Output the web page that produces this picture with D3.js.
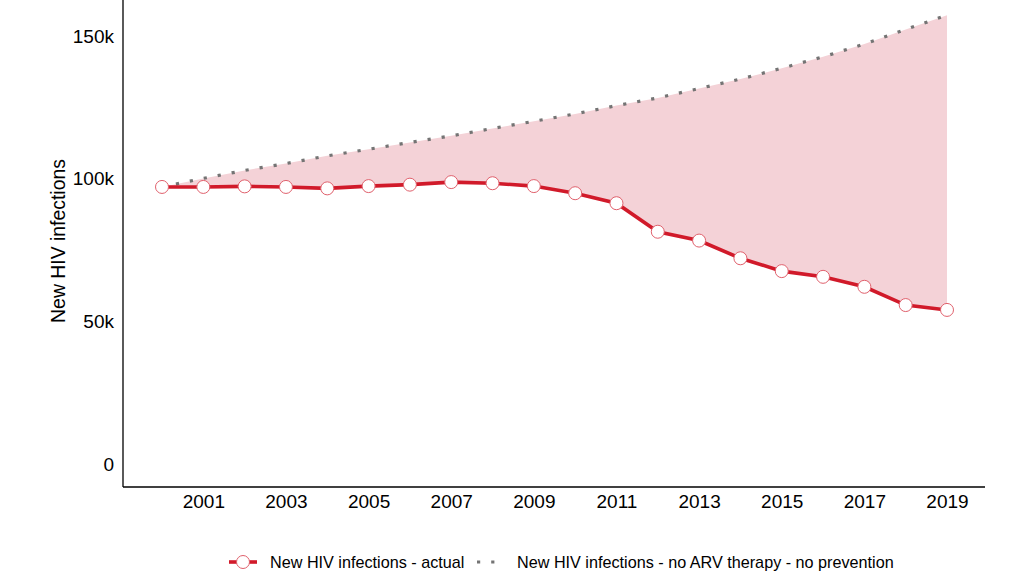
<!DOCTYPE html>
<html lang="en">
    <head>
        <meta charset="utf-8">
        <title>New HIV infections</title>
        <script src="https://cdn.jsdelivr.net/npm/d3@7"></script>
    </head>

    <body style="margin: 0px">
        <script type="text/javascript">

            // years and the two series
            var years = [2000, 2001, 2002, 2003, 2004, 2005, 2006, 2007, 2008, 2009,
                         2010, 2011, 2012, 2013, 2014, 2015, 2016, 2017, 2018, 2019];
            var actual = [97100, 97100, 97300, 97100, 96600, 97400, 97900, 98800, 98400, 97400,
                          94900, 91400, 81400, 78300, 72100, 67600, 65600, 62100, 55700, 54000];
            var noArv = [97100, 100100, 102900, 105300, 108000, 110300, 112700, 115000, 117600, 120100,
                         122700, 125600, 128300, 131600, 134900, 138700, 142700, 147200, 152300, 157300];
            var yTicks = [0, 50000, 100000, 150000];
            var xTicks = [2001, 2003, 2005, 2007, 2009, 2011, 2013, 2015, 2017, 2019];
            var legendLabels = ["New HIV infections - actual", "New HIV infections - no ARV therapy - no prevention"];

            var width = 1015;
            var height = 585;
            var font = "'Liberation Sans', Arial, sans-serif";
            var red = "#d11a2a";

            var svg = d3.select("body")
                .append("svg")
                .attr("width", width)
                .attr("height", height)
                .style("display", "block");

            var x = d3.scaleLinear().domain([2000, 2019]).range([162, 947]);
            var y = d3.scaleLinear().domain([0, 150000]).range([464, 36]);

            var rows = years.map(function(yr, i){
                return {year: yr, actual: actual[i], noArv: noArv[i]};
            });

            // gap between the two series
            svg.append("path")
                .datum(rows)
                .attr("fill", "rgb(244,210,215)")
                .attr("d", d3.area()
                    .x(function(d){ return x(d.year); })
                    .y0(function(d){ return y(d.actual); })
                    .y1(function(d){ return y(d.noArv); }));

            // axes
            svg.append("line")
                .attr("x1", 123).attr("x2", 123)
                .attr("y1", 0).attr("y2", 487)
                .attr("stroke", "black").attr("stroke-width", 1.3);
            svg.append("line")
                .attr("x1", 123).attr("x2", 985)
                .attr("y1", 487).attr("y2", 487)
                .attr("stroke", "black").attr("stroke-width", 1.3);

            var yAxis = svg.append("g")
                .attr("transform", "translate(123,0)")
                .call(d3.axisLeft(y).tickValues(yTicks).tickSize(0).tickPadding(9)
                    .tickFormat(function(d){ return d == 0 ? "0" : (d / 1000) + "k"; }));
            yAxis.select(".domain").remove();
            yAxis.selectAll("text")
                .attr("fill", "black")
                .style("font-family", font)
                .style("font-size", "19px");

            var xAxis = svg.append("g")
                .attr("transform", "translate(0,487)")
                .call(d3.axisBottom(x).tickValues(xTicks).tickSize(0).tickPadding(8)
                    .tickFormat(d3.format("d")));
            xAxis.select(".domain").remove();
            xAxis.selectAll("text")
                .attr("fill", "black")
                .style("font-family", font)
                .style("font-size", "19px");

            svg.append("text")
                .attr("transform", "translate(65,241) rotate(-90)")
                .attr("text-anchor", "middle")
                .attr("fill", "black")
                .style("font-family", font)
                .style("font-size", "19.4px")
                .text("New HIV infections");

            // no-ARV dotted line
            svg.append("path")
                .datum(rows)
                .attr("fill", "none")
                .attr("stroke", "#747474")
                .attr("stroke-width", 3.2)
                .attr("stroke-dasharray", "3.2,11")
                .attr("d", d3.line()
                    .x(function(d){ return x(d.year); })
                    .y(function(d){ return y(d.noArv); }));

            // actual line + markers
            svg.append("path")
                .datum(rows)
                .attr("fill", "none")
                .attr("stroke", red)
                .attr("stroke-width", 3.6)
                .attr("d", d3.line()
                    .x(function(d){ return x(d.year); })
                    .y(function(d){ return y(d.actual); }));

            svg.selectAll(".pt")
                .data(rows)
                .enter()
                .append("circle")
                .attr("class", "pt")
                .attr("cx", function(d){ return x(d.year); })
                .attr("cy", function(d){ return y(d.actual); })
                .attr("r", 6.5)
                .attr("fill", "white")
                .attr("stroke", "#e0606c")
                .attr("stroke-width", 1);

            // legend
            var lg = svg.append("g").attr("transform", "translate(0,562)");
            lg.append("line")
                .attr("x1", 229).attr("x2", 257)
                .attr("stroke", red).attr("stroke-width", 3.6);
            lg.append("circle")
                .attr("cx", 243).attr("r", 6.5)
                .attr("fill", "white").attr("stroke", "#e0606c").attr("stroke-width", 1);
            lg.append("text")
                .attr("x", 270).attr("dy", "0.35em")
                .attr("fill", "black")
                .style("font-family", font).style("font-size", "16.2px")
                .text(legendLabels[0]);

            lg.append("line")
                .attr("x1", 477).attr("x2", 496)
                .attr("stroke", "#747474").attr("stroke-width", 3.2)
                .attr("stroke-dasharray", "3.2,11");
            lg.append("text")
                .attr("x", 517).attr("dy", "0.35em")
                .attr("fill", "black")
                .style("font-family", font).style("font-size", "16.2px")
                .text(legendLabels[1]);
        </script>
    </body>
</html>
